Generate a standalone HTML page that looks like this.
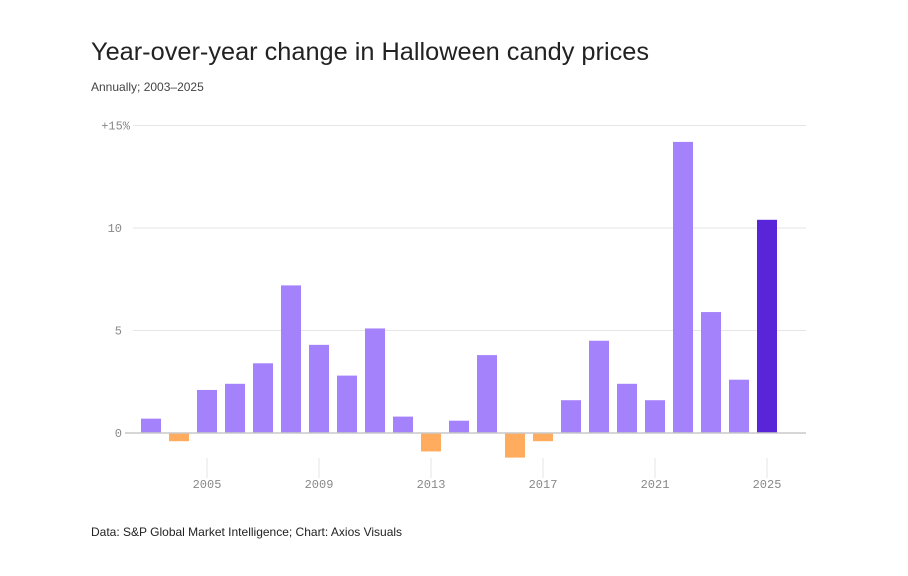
<!DOCTYPE html>
<html><head><meta charset="utf-8"><style>
body{margin:0;background:#fff;}
svg{display:block;font-family:"Liberation Sans",sans-serif;}
</style></head><body>
<svg id="chart" width="908" height="576" viewBox="0 0 908 576">
<text x="91" y="60" font-size="25" fill="#222" textLength="558" lengthAdjust="spacingAndGlyphs">Year-over-year change in Halloween candy prices</text>
<text x="91" y="91" font-size="12" fill="#444">Annually; 2003–2025</text>
<text x="91" y="536" font-size="12" fill="#222">Data: S&amp;P Global Market Intelligence; Chart: Axios Visuals</text>
<g id="grid"></g><g id="bars"></g><g id="xaxis"></g>
</svg>
<script>
const years=[2003,2004,2005,2006,2007,2008,2009,2010,2011,2012,2013,2014,2015,2016,2017,2018,2019,2020,2021,2022,2023,2024,2025];
const values=[0.7,-0.4,2.1,2.4,3.4,7.2,4.3,2.8,5.1,0.8,-0.9,0.6,3.8,-1.2,-0.4,1.6,4.5,2.4,1.6,14.2,5.9,2.6,10.4];
const yTicks=[0,5,10,15];
const yTickLabels=["0","5","10","+15%"];
const xTicks=[2005,2009,2013,2017,2021,2025];
const NS="http://www.w3.org/2000/svg";
const y=v=>433-v*20.5;
const x=yr=>151+(yr-2003)*28;
function mk(tag,attrs,parent){const e=document.createElementNS(NS,tag);for(const k in attrs)e.setAttribute(k,attrs[k]);parent.appendChild(e);return e;}
const grid=document.getElementById('grid'),bars=document.getElementById('bars'),xa=document.getElementById('xaxis');
yTicks.forEach((t,i)=>{
  const l=mk('line',{x1:t===0?125:133,x2:806,y1:y(t),y2:y(t),stroke:'#e6e6e6','stroke-width':1},grid);
  
  
  const tx=mk('text',{x:t===15?130:122,y:y(t)+4,'text-anchor':'end','font-size':12,fill:'#888','font-family':'Liberation Mono,monospace'},grid);
  tx.textContent=yTickLabels[i];
  
  
});
years.forEach((yr,i)=>{
  const v=values[i];
  const col=yr===2025?'#5a25d9':(v<0?'#ffac5f':'#a482fb');
  const r=mk('rect',{x:x(yr)-10,width:20,y:Math.min(y(v),y(0)),height:Math.abs(y(v)-y(0)),fill:col},bars);
  
  
});
const base=mk('line',{x1:125,x2:806,y1:433,y2:433,stroke:'#c8c8c8','stroke-width':1.5},bars);


xTicks.forEach(t=>{
  const l=mk('line',{x1:x(t),x2:x(t),y1:458,y2:478,stroke:'#eee','stroke-width':1.5},xa);
  
  
  const tx=mk('text',{x:x(t),y:488,'text-anchor':'middle','font-size':12,fill:'#888','font-family':'Liberation Mono,monospace'},xa);
  tx.textContent=t;
  
  
});
</script>
</body></html>
